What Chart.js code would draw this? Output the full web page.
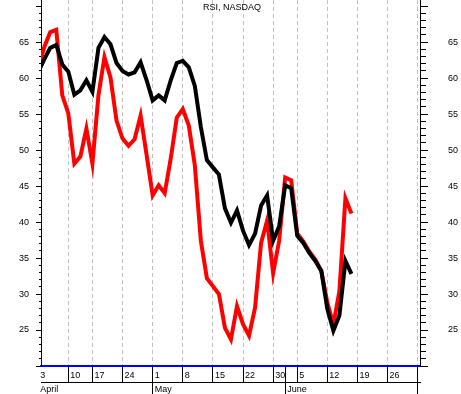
<!DOCTYPE html>
<html>
<head>
<meta charset="utf-8">
<script src="https://cdn.jsdelivr.net/npm/chart.js@4"></script>
<style>
html,body{margin:0;padding:0;background:#fff;overflow:hidden;}
#wrap{width:461px;height:394px;}
</style>
</head>
<body>
<div id="wrap"><canvas id="c" width="461" height="394"></canvas></div>
<script>
// ---- data (trading days, April 3 - June 16) ----
const tradingDays = ['04-03','04-04','04-05','04-06','04-07','04-10','04-11','04-12','04-13','04-17',
  '04-18','04-19','04-20','04-21','04-24','04-25','04-26','04-27','04-28','05-01',
  '05-02','05-03','05-04','05-05','05-08','05-09','05-10','05-11','05-12','05-15',
  '05-16','05-17','05-18','05-19','05-22','05-23','05-24','05-25','05-26','05-30',
  '05-31','06-01','06-02','06-05','06-06','06-07','06-08','06-09','06-12','06-13',
  '06-14','06-15','06-16'];
const rsiBlack = [60.8,62.6,64.2,64.6,61.9,60.9,57.7,58.3,59.7,58.1,
  64.2,65.7,64.7,62.1,61.0,60.5,60.8,62.2,59.7,56.9,
  57.6,56.9,59.7,62.1,62.4,61.5,58.9,53.2,48.6,47.6,
  46.6,41.9,39.9,41.6,38.8,36.8,38.4,42.3,43.7,37.4,
  39.4,45.1,44.7,38.1,37.1,35.7,34.6,33.2,27.9,24.9,
  27.0,34.6,32.8];
const rsiRed = [61.3,64.3,66.4,66.7,57.6,55.1,48.1,49.1,53.0,48.1,
  57.6,62.9,60.1,54.1,51.6,50.6,51.5,54.8,49.3,43.7,
  45.1,44.0,48.8,54.5,55.7,53.4,47.9,37.4,32.2,31.1,
  30.0,25.3,23.7,28.3,25.8,24.2,28.1,37.1,40.2,32.9,
  37.4,46.2,45.8,38.4,37.3,35.9,34.8,33.2,28.8,25.8,
  30.4,43.3,41.2];

// ---- axis ticks (x in trading-day units from April 3) ----
const weekTickIdx    = [0,5,9,14,19,24,29,34,39,41,43,48,53,58,63];
const weekTickLabels = ['3','10','17','24','1','8','15','22','30','','5','12','19','26',''];
const monthTickIdx    = [0,19,41,63];
const monthTickLabels = ['April','May','June',''];
const yLabelTicks = [25,30,35,40,45,50,55,60,65];
const titleText = 'RSI, NASDAQ';

const xMin = 0.465, xMax = 63.38;
const yMin = 20, yMax = 70.85;

const FONT = '"Liberation Sans", Arial, Helvetica, sans-serif';
Chart.defaults.font.family = FONT;
Chart.defaults.font.size = 9;
Chart.defaults.color = '#000';

const isMajor = v => Math.abs(v % 5) < 1e-6;
const clear = 'rgba(0,0,0,0)';

const titlePlugin = {
  id: 'titleText',
  afterDraw(chart) {
    const ctx = chart.ctx, a = chart.chartArea;
    ctx.save();
    ctx.font = '9px ' + FONT;
    ctx.fillStyle = '#000';
    ctx.textAlign = 'center';
    ctx.textBaseline = 'middle';
    ctx.fillText(titleText, (a.left + a.right) / 2 + 1.5, 8);
    ctx.restore();
  }
};

new Chart(document.getElementById('c'), {
  type: 'line',
  data: {
    datasets: [
      { label: 'RSI 1', data: rsiBlack.map((v, i) => ({x: i, y: v})),
        borderColor: '#000000', borderWidth: 4, pointRadius: 0, tension: 0, clip: 0, fill: false },
      { label: 'RSI 2', data: rsiRed.map((v, i) => ({x: i, y: v})),
        borderColor: '#ff0000', borderWidth: 4, pointRadius: 0, tension: 0, clip: 0, fill: false }
    ]
  },
  options: {
    responsive: false,
    devicePixelRatio: 1,
    animation: false,
    events: [],
    layout: { padding: 0, autoPadding: false },
    plugins: { legend: { display: false }, tooltip: { enabled: false }, title: { display: false } },
    scales: {
      x: {
        type: 'linear', position: 'bottom', weight: 0, min: xMin, max: xMax,
        afterBuildTicks: s => { s.ticks = weekTickIdx.map(v => ({value: v})); },
        afterFit: s => { s.height = 16; s.paddingLeft = 0; s.paddingRight = 0; },
        ticks: { autoSkip: false, maxRotation: 0, minRotation: 0, align: 'start', labelOffset: 2,
                 padding: -12, callback: (v, i) => weekTickLabels[i] },
        grid: {
          drawOnChartArea: true, drawTicks: true, tickLength: 16, lineWidth: 1,
          color: c => (c.tick && (c.tick.value === 0 || c.tick.value === 41)) ? clear : '#c0c0c0',
          tickColor: c => (c.tick && c.tick.value === 0) ? clear : '#000',
          tickWidth: 1, tickBorderDash: []
        },
        border: { display: true, color: '#0000ff', width: 2, dash: [4, 3] }
      },
      x2: {
        type: 'linear', position: 'bottom', weight: 1, min: xMin, max: xMax,
        afterBuildTicks: s => { s.ticks = monthTickIdx.map(v => ({value: v})); },
        afterFit: s => { s.height = 12; s.paddingLeft = 0; s.paddingRight = 0; },
        ticks: { autoSkip: false, maxRotation: 0, minRotation: 0, align: 'start', labelOffset: 2,
                 padding: -10, callback: (v, i) => monthTickLabels[i] },
        grid: {
          drawOnChartArea: false, drawTicks: true, tickLength: 12,
          color: '#000', tickColor: c => (c.tick && c.tick.value === 0) ? clear : '#000', tickWidth: 1
        },
        border: { display: true, color: '#000', width: 1 }
      },
      y: {
        type: 'linear', position: 'left', min: yMin, max: yMax,
        ticks: { stepSize: 1, includeBounds: false, autoSkip: false, padding: 7,
                 callback: v => yLabelTicks.includes(v) ? String(v) : '' },
        afterFit: s => { s.width = 41; s.paddingTop = 0; s.paddingBottom = 0; },
        grid: { drawOnChartArea: false, drawTicks: true, tickLength: 5, color: '#000', tickColor: '#000',
                tickWidth: 1, tickBorderDash: c => (c.tick && isMajor(c.tick.value)) ? [] : [0, 3, 2, 100] },
        border: { display: true, color: '#000', width: 1 }
      },
      y2: {
        type: 'linear', position: 'right', min: yMin, max: yMax,
        ticks: { stepSize: 1, includeBounds: false, autoSkip: false, padding: 20,
                 callback: v => yLabelTicks.includes(v) ? String(v) : '' },
        afterFit: s => { s.width = 41; s.paddingTop = 0; s.paddingBottom = 0; },
        grid: { drawOnChartArea: false, drawTicks: true, tickLength: 8, color: '#000', tickColor: '#000',
                tickWidth: 1, tickBorderDash: c => (c.tick && isMajor(c.tick.value)) ? [] : [5, 100] },
        border: { display: true, color: '#000', width: 1 }
      }
    }
  },
  plugins: [titlePlugin]
});
</script>
</body>
</html>
